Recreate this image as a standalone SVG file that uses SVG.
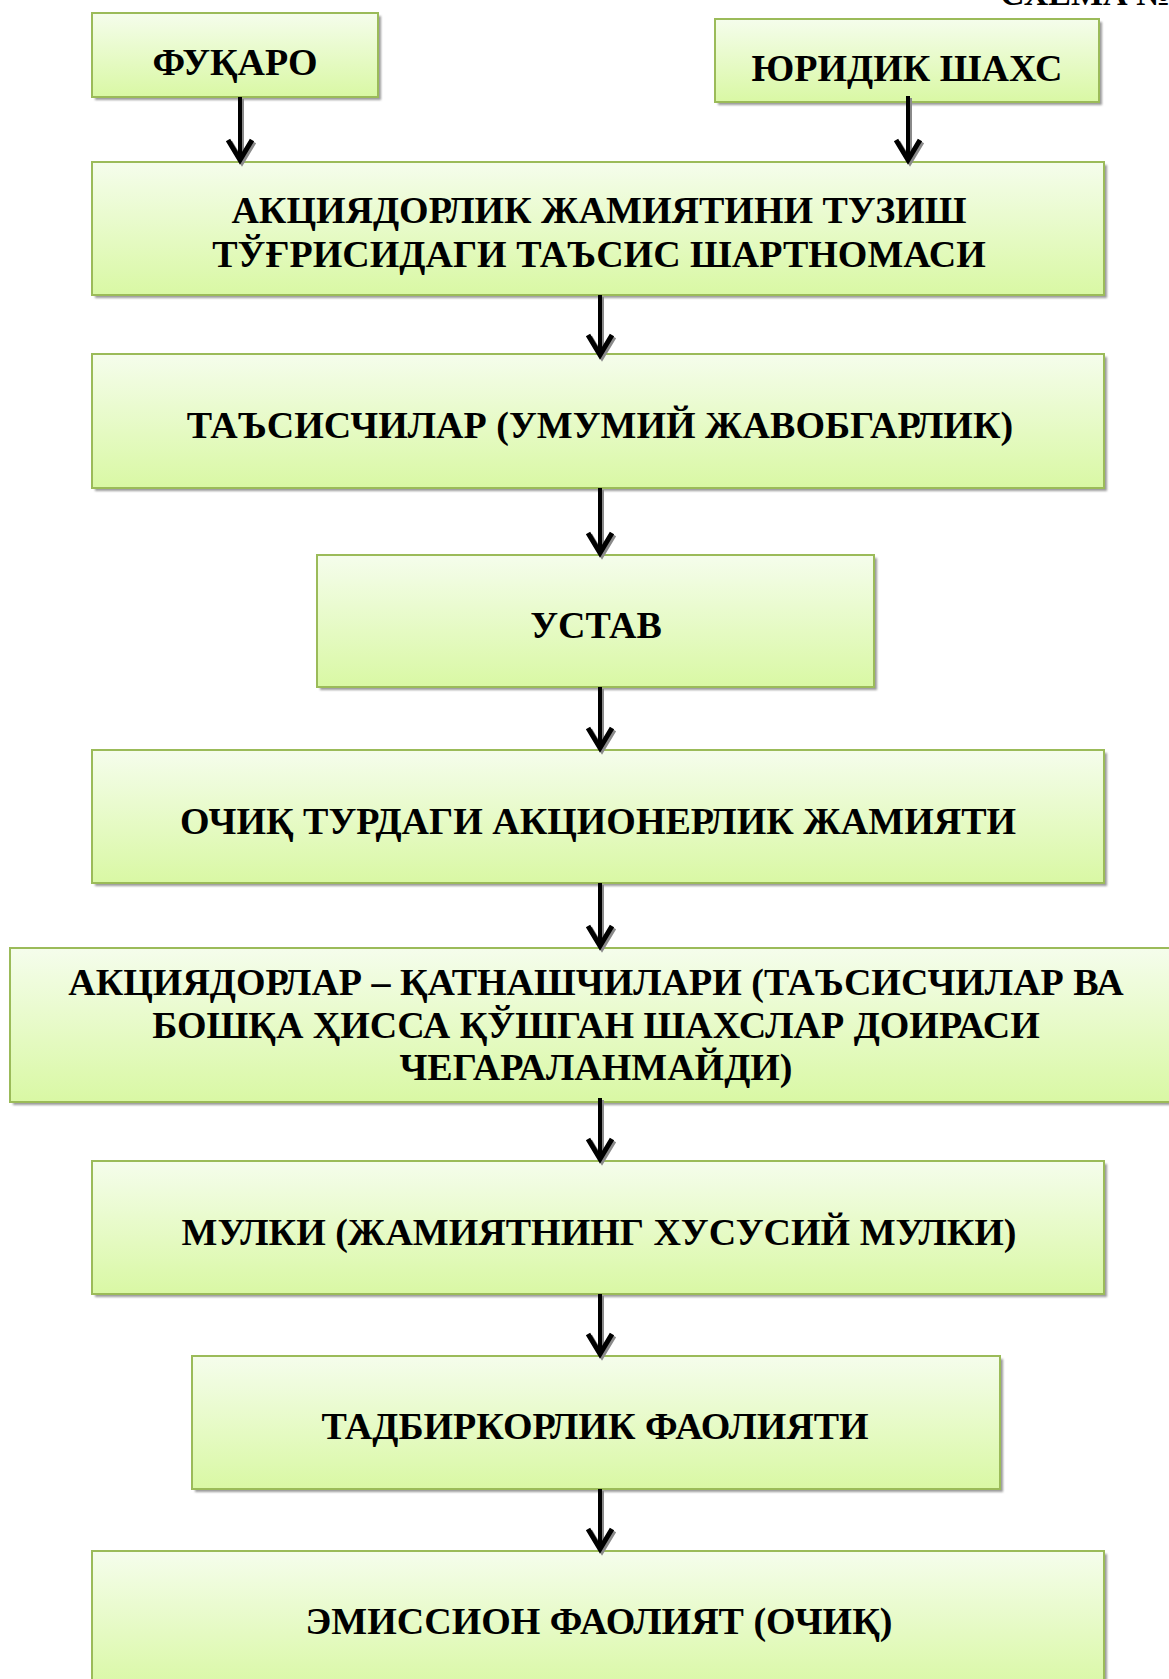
<svg xmlns="http://www.w3.org/2000/svg" width="1169" height="1679" viewBox="0 0 1169 1679">
<defs>
<linearGradient id="g" x1="0" y1="0" x2="0" y2="1">
<stop offset="0" stop-color="#f5fdec"/>
<stop offset="1" stop-color="#d9f8a4"/>
</linearGradient>
<filter id="sh" x="-5%" y="-5%" width="110%" height="120%">
<feGaussianBlur stdDeviation="1"/>
</filter>
</defs>
<style>
.box{fill:url(#g);stroke:#9bbb59;stroke-width:2}
.shadow{fill:#9a9a9a;filter:url(#sh)}
.t{font-family:"Liberation Serif","Times New Roman",serif;font-weight:bold;font-size:38px;fill:#000;text-anchor:middle}
.ln{stroke:#000;stroke-width:4;fill:none}
.hd{stroke:#000;stroke-width:5;fill:none;stroke-linejoin:miter}
.ls{stroke:#8a8a8a;stroke-width:4;fill:none}
.hs{stroke:#8a8a8a;stroke-width:5;fill:none;stroke-linejoin:miter}
</style>
<rect width="1169" height="1679" fill="#fff"/>
<text x="1000" y="5" font-family="Liberation Serif, serif" font-weight="bold" font-size="34">СХЕМА №</text>

<g id="n-fuqaro">
<rect class="shadow" x="95" y="16" width="286" height="84"/>
<rect class="box" x="92" y="13" width="286" height="84"/>
<text class="t" x="235" y="75">ФУҚАРО</text>
</g>
<g id="n-yuridik">
<rect class="shadow" x="718" y="22" width="384" height="83"/>
<rect class="box" x="715" y="19" width="384" height="83"/>
<text class="t" x="907" y="81">ЮРИДИК ШАХС</text>
</g>
<g id="n-shartnoma">
<rect class="shadow" x="95" y="165" width="1012" height="133"/>
<rect class="box" x="92" y="162" width="1012" height="133"/>
<text class="t" x="599" y="223">АКЦИЯДОРЛИК ЖАМИЯТИНИ ТУЗИШ</text>
<text class="t" x="599" y="267">ТЎҒРИСИДАГИ ТАЪСИС ШАРТНОМАСИ</text>
</g>
<g id="n-tasischilar">
<rect class="shadow" x="95" y="357" width="1012" height="134"/>
<rect class="box" x="92" y="354" width="1012" height="134"/>
<text class="t" x="600" y="438">ТАЪСИСЧИЛАР (УМУМИЙ ЖАВОБГАРЛИК)</text>
</g>
<g id="n-ustav">
<rect class="shadow" x="320" y="558" width="557" height="132"/>
<rect class="box" x="317" y="555" width="557" height="132"/>
<text class="t" x="596" y="638">УСТАВ</text>
</g>
<g id="n-ochiq">
<rect class="shadow" x="95" y="753" width="1012" height="133"/>
<rect class="box" x="92" y="750" width="1012" height="133"/>
<text class="t" x="598" y="834">ОЧИҚ ТУРДАГИ АКЦИОНЕРЛИК ЖАМИЯТИ</text>
</g>
<g id="n-aksiyadorlar">
<rect class="shadow" x="13" y="951" width="1170" height="154"/>
<rect class="box" x="10" y="948" width="1170" height="154"/>
<text class="t" x="596" y="995">АКЦИЯДОРЛАР – ҚАТНАШЧИЛАРИ (ТАЪСИСЧИЛАР ВА</text>
<text class="t" x="596" y="1038">БОШҚА ҲИССА ҚЎШГАН ШАХСЛАР ДОИРАСИ</text>
<text class="t" x="596" y="1080">ЧЕГАРАЛАНМАЙДИ)</text>
</g>
<g id="n-mulki">
<rect class="shadow" x="95" y="1164" width="1012" height="133"/>
<rect class="box" x="92" y="1161" width="1012" height="133"/>
<text class="t" x="599" y="1245">МУЛКИ (ЖАМИЯТНИНГ ХУСУСИЙ МУЛКИ)</text>
</g>
<g id="n-tadbirkorlik">
<rect class="shadow" x="195" y="1359" width="808" height="133"/>
<rect class="box" x="192" y="1356" width="808" height="133"/>
<text class="t" x="595" y="1439">ТАДБИРКОРЛИК ФАОЛИЯТИ</text>
</g>
<g id="n-emission">
<rect class="shadow" x="95" y="1554" width="1012" height="140"/>
<rect class="box" x="92" y="1551" width="1012" height="140"/>
<text class="t" x="599" y="1634">ЭМИССИОН ФАОЛИЯТ (ОЧИҚ)</text>
</g>

<g id="connectors">
<g transform="translate(2,2)">
<path class="ls" d="M240 97V157M908 96V157M600 295V352M600 488V550M600 687V745M600 883V943M600 1098V1156M600 1294V1351M600 1489V1546"/>
<path class="hs" d="M228 140L240 160L252 140M896 140L908 160L920 140M588 335L600 355L612 335M588 533L600 553L612 533M588 728L600 748L612 728M588 926L600 946L612 926M588 1139L600 1159L612 1139M588 1334L600 1354L612 1334M588 1529L600 1549L612 1529"/>
</g>
<path class="ln" d="M240 97V157M908 96V157M600 295V352M600 488V550M600 687V745M600 883V943M600 1098V1156M600 1294V1351M600 1489V1546"/>
<path class="hd" d="M228 140L240 160L252 140M896 140L908 160L920 140M588 335L600 355L612 335M588 533L600 553L612 533M588 728L600 748L612 728M588 926L600 946L612 926M588 1139L600 1159L612 1139M588 1334L600 1354L612 1334M588 1529L600 1549L612 1529"/>
</g>
</svg>
